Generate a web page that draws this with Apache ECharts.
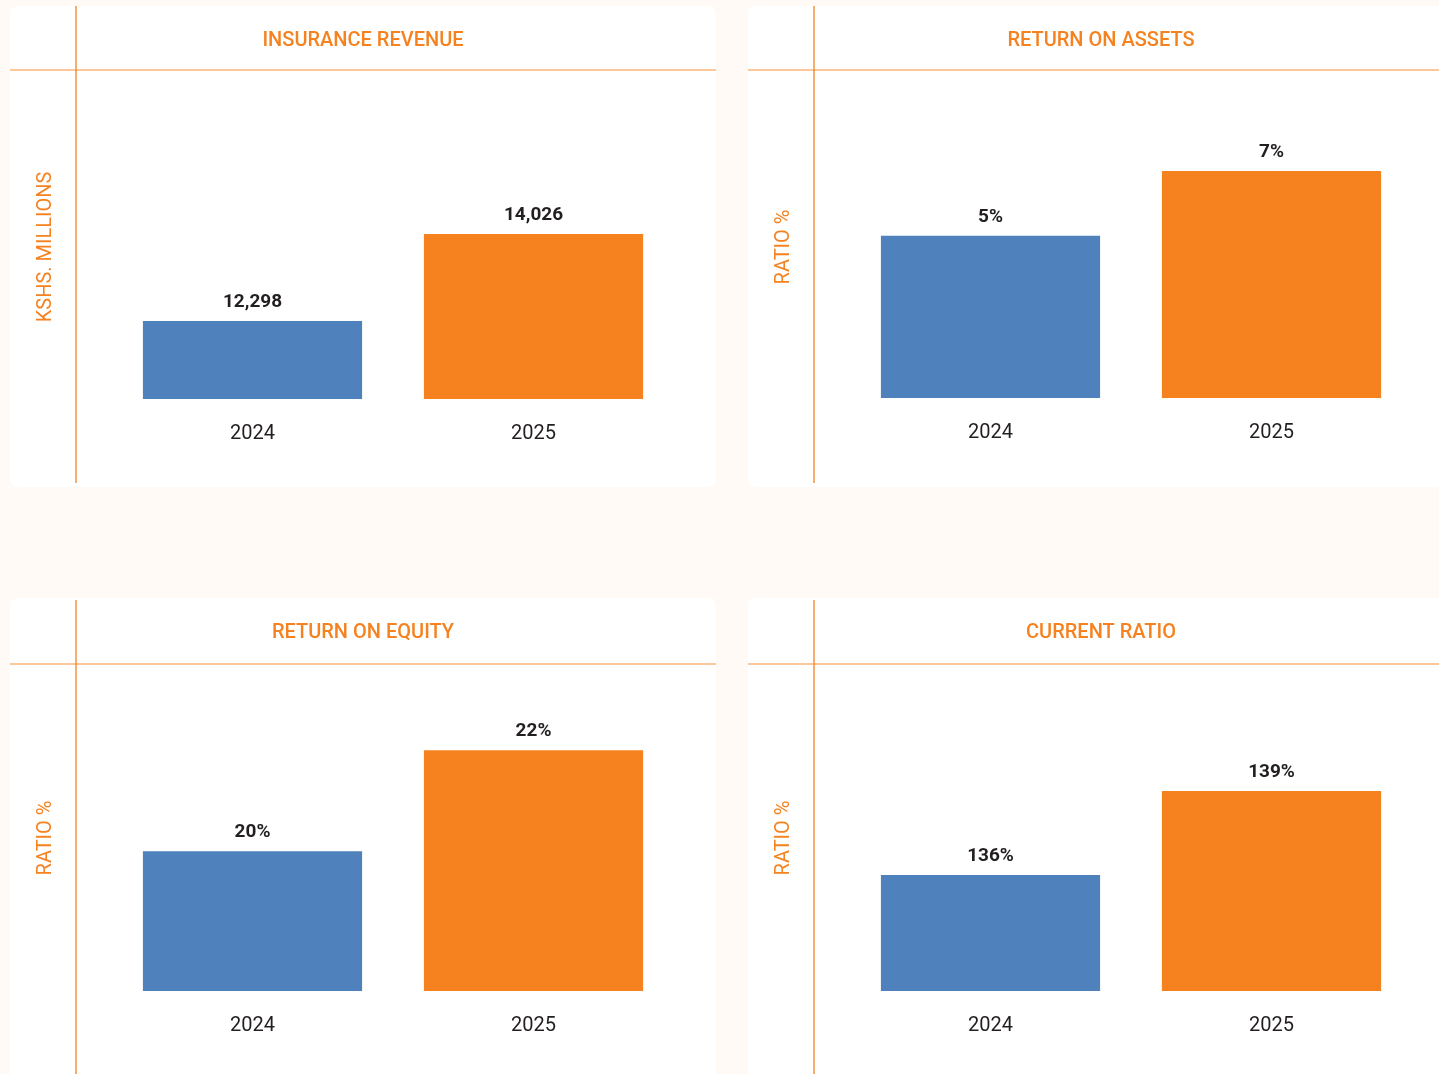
<!DOCTYPE html>
<html><head><meta charset="utf-8">
<script src="https://cdn.jsdelivr.net/npm/echarts@6/dist/echarts.min.js"></script>
<style>html,body{margin:0;padding:0;background:#fffaf5}#c{width:1439px;height:1074px}</style>
</head><body><div id="c"></div>
<script>
// ---- data ----
const years = ['2024', '2025'];
const insuranceRevenue = [12298, 14026];
const returnOnAssets = [5, 7];
const returnOnEquity = [20, 22];
const currentRatio = [136, 139];
const panelTitles = ['INSURANCE REVENUE', 'RETURN ON ASSETS', 'RETURN ON EQUITY', 'CURRENT RATIO'];
const axisNames = ['KSHS. MILLIONS', 'RATIO %', 'RATIO %', 'RATIO %'];

// ---- layout / style ----
const ORANGE = '#f5821f', BLUE = '#4f81bd', DARK = '#231f20';
const FONT = 'Roboto, "Liberation Sans", sans-serif';
const panels = [
  {x:10,  y:6,   w:706, h:481, vx:76,  vy0:6,   vy1:483,  hy:70,  ty:41,  grid:{left:112, top:95,  width:562, height:304}, min:10749,   max:16787, data:insuranceRevenue, fmt:v=>v.toLocaleString('en-US')},
  {x:748, y:6,   w:706, h:481, vx:814, vy0:6,   vy1:483,  hy:70,  ty:41,  grid:{left:850, top:96,  width:562, height:302}, min:0,       max:9.31,  data:returnOnAssets,   fmt:v=>v+'%'},
  {x:10,  y:598, w:706, h:500, vx:76,  vy0:600, vy1:1074, hy:664, ty:633, grid:{left:112, top:685, width:562, height:306}, min:17.23,   max:23.29, data:returnOnEquity,   fmt:v=>v+'%'},
  {x:748, y:598, w:706, h:500, vx:814, vy0:600, vy1:1074, hy:664, ty:633, grid:{left:850, top:685, width:562, height:306}, min:131.857, max:142.79,data:currentRatio,     fmt:v=>v+'%'}
];

const graphic = [];
panels.forEach((p, i) => {
  graphic.push({type:'rect', z:0, shape:{x:p.x, y:p.y, width:p.w, height:p.h, r:8}, style:{fill:'#ffffff'}});
  graphic.push({type:'line', z:1, shape:{x1:p.x, y1:p.hy, x2:p.x + p.w, y2:p.hy}, style:{stroke:ORANGE, lineWidth:1.6, opacity:0.6}});
  graphic.push({type:'line', z:1, shape:{x1:p.vx, y1:p.vy0, x2:p.vx, y2:p.vy1}, style:{stroke:ORANGE, lineWidth:1.3}});
  graphic.push({type:'text', z:1, x:p.x + 353, y:p.ty, style:{text:panelTitles[i], fill:ORANGE, font:'500 20px ' + FONT, align:'center', verticalAlign:'middle'}});
});

const option = {
  backgroundColor: '#fffaf5',
  animation: false,
  graphic: graphic,
  grid: panels.map(p => Object.assign({containLabel:false}, p.grid)),
  xAxis: panels.map((p, i) => ({
    type:'category', gridIndex:i, data:years,
    axisLine:{show:false}, axisTick:{show:false}, splitLine:{show:false},
    axisLabel:{color:DARK, fontSize:20, fontFamily:FONT, margin:25}
  })),
  yAxis: panels.map((p, i) => ({
    type:'value', gridIndex:i, min:p.min, max:p.max,
    axisLine:{show:false}, axisTick:{show:false}, splitLine:{show:false}, axisLabel:{show:false},
    name:axisNames[i], nameLocation:'middle', nameRotate:90, nameGap:56,
    nameTextStyle:{color:ORANGE, fontSize:20, fontFamily:FONT}
  })),
  series: panels.map((p, i) => ({
    type:'bar', xAxisIndex:i, yAxisIndex:i, data:p.data, clip:true,
    barCategoryGap:'22%',
    itemStyle:{color: params => params.dataIndex === 0 ? BLUE : ORANGE},
    label:{show:true, position:'top', distance:9, color:DARK, fontSize:19, fontWeight:'bold', fontFamily:FONT,
           formatter: params => p.fmt(params.value)}
  }))
};
const chart = echarts.init(document.getElementById('c'), null, {renderer:'canvas'});
chart.setOption(option);
</script>
</body></html>
